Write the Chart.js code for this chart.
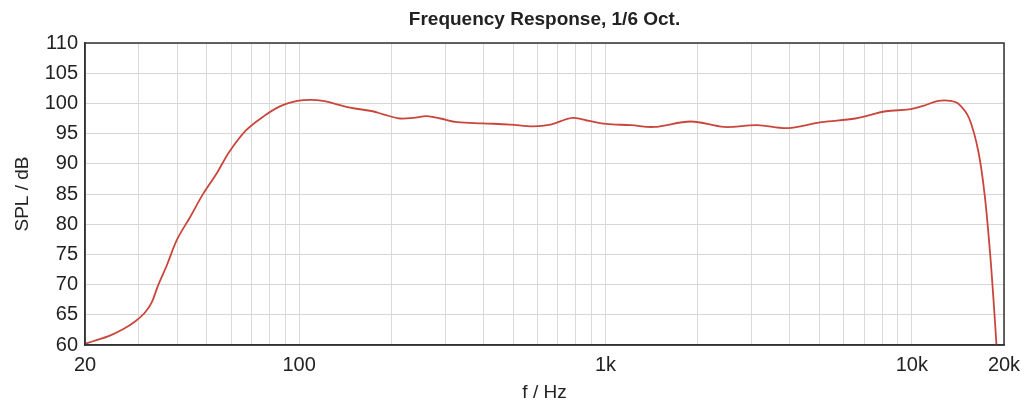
<!DOCTYPE html>
<html>
<head>
<meta charset="utf-8">
<script src="https://cdn.jsdelivr.net/npm/chart.js@4.4.1/dist/chart.umd.min.js"></script>
<style>
  html, body { margin: 0; padding: 0; background: #fff; }
  #wrap { width: 1029px; height: 406px; }
</style>
</head>
<body>
<div id="wrap"><canvas id="frChart"></canvas></div>
<script>
// frequency response (Hz, dB SPL)
const freqs = [20, 21.8, 24, 26.6, 29, 31.3, 33, 34.6, 37, 39.9, 44.1, 48.7, 53.8, 59.2, 67.3, 76.3, 86.5,
  98.6, 108.9, 119.7, 146.6, 174, 188, 213, 236, 261, 289, 328, 398, 489, 580, 662, 781, 886, 1004,
  1213, 1440, 1900, 2440, 3130, 3940, 5070, 6540, 8230, 9780, 10900, 12200, 13400, 14300, 15400,
  16500, 17300, 18000, 18500, 18900];
const spl = [60.2, 60.8, 61.5, 62.6, 63.8, 65.3, 67.0, 69.8, 73.2, 77.4, 81.2, 85.1, 88.4, 92.0, 95.6, 97.8, 99.5,
  100.4, 100.6, 100.4, 99.3, 98.7, 98.2, 97.5, 97.6, 97.9, 97.5, 96.9, 96.7, 96.5, 96.2, 96.5, 97.6, 97.1, 96.6,
  96.4, 96.1, 97.0, 96.1, 96.4, 95.9, 96.9, 97.5, 98.7, 99.0, 99.6, 100.4, 100.4, 99.8, 97.5,
  92.0, 84.8, 75.4, 67.2, 60.0];

// vertical grid lines and which of them carry a label
const gridFreqs = [20, 30, 40, 50, 60, 70, 80, 90, 100, 200, 300, 400, 500, 600, 700, 800, 900,
  1000, 2000, 3000, 4000, 5000, 6000, 7000, 8000, 9000, 10000, 20000];
const freqLabels = { 20: '20', 100: '100', 1000: '1k', 10000: '10k', 20000: '20k' };

const FONT = 'Liberation Sans, Arial, sans-serif';

// closes the plot box on top and right
const frameBox = {
    id: 'frameBox',
    afterDatasetsDraw(chart) {
        const a = chart.chartArea;
        const c = chart.ctx;
        c.save();
        c.strokeStyle = '#333';
        c.lineWidth = 1.5;
        c.strokeRect(a.left, a.top, a.right - a.left, a.bottom - a.top);
        c.restore();
    }
};

const ctx = document.getElementById('frChart').getContext('2d');
const frChart = new Chart(ctx, {
    type: 'line',
    data: {
        datasets: [{
            label: 'SPL',
            data: freqs.map((f, i) => ({ x: f, y: spl[i] })),
            borderColor: 'rgb(202, 70, 60)',
            borderWidth: 1.8,
            pointRadius: 0,
            tension: 0.35,
            fill: false
        }]
    },
    plugins: [frameBox],
    options: {
        responsive: true,
        maintainAspectRatio: false,
        animation: false,
        layout: { padding: { left: 0, right: 25, top: 0, bottom: 0 } },
        plugins: {
            legend: { display: false },
            tooltip: { enabled: false },
            title: {
                display: true,
                fullSize: false,
                text: 'Frequency Response, 1/6 Oct.',
                color: '#222',
                font: { family: FONT, size: 19, weight: 'bold' },
                padding: { top: 8, bottom: 12.2 }
            }
        },
        scales: {
            x: {
                type: 'logarithmic',
                min: 20,
                max: 20000,
                afterBuildTicks: (scale) => {
                    scale.ticks = gridFreqs.map(v => ({ value: v }));
                },
                afterFit: (scale) => { scale.height = 61; },
                ticks: {
                    autoSkip: false,
                    maxRotation: 0,
                    padding: 8,
                    color: '#222',
                    font: { family: FONT, size: 20 },
                    callback: (v) => freqLabels[v] || ''
                },
                grid: { color: '#dadada', lineWidth: 1, drawTicks: false },
                border: { color: '#333', width: 1.5 },
                title: {
                    display: true,
                    text: 'f / Hz',
                    color: '#222',
                    font: { family: FONT, size: 19 },
                    padding: { top: 0, bottom: 2 }
                }
            },
            y: {
                min: 60,
                max: 110,
                afterFit: (scale) => { scale.width = 85; },
                ticks: {
                    stepSize: 5,
                    padding: 7,
                    color: '#222',
                    font: { family: FONT, size: 20 }
                },
                grid: { color: '#d6d6d6', lineWidth: 1, drawTicks: false },
                border: { color: '#333', width: 1.5 },
                title: {
                    display: true,
                    text: 'SPL / dB',
                    color: '#222',
                    font: { family: FONT, size: 19 },
                    padding: { top: 11, bottom: 0 }
                }
            }
        }
    }
});
</script>
</body>
</html>
